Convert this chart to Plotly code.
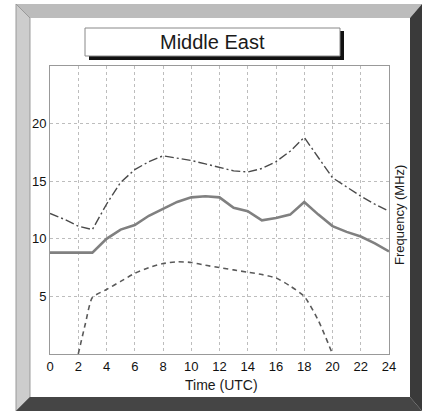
import plotly.graph_objects as go

# ---- data ----
hours = list(range(0, 25))
muf_median = [8.8, 8.8, 8.8, 8.8, 10.0, 10.8, 11.2, 12.0, 12.6, 13.2, 13.6, 13.7, 13.6,
              12.7, 12.4, 11.6, 11.8, 12.1, 13.2, 12.1, 11.1, 10.6, 10.2, 9.6, 8.9]
muf_upper = [12.2, 11.7, 11.1, 10.8, 13.0, 14.9, 16.0, 16.7, 17.2, 17.0, 16.8, 16.5, 16.2,
             15.9, 15.8, 16.1, 16.7, 17.6, 18.8, 17.0, 15.3, 14.5, 13.7, 13.0, 12.4]
low_hours = [2, 2.5, 3, 4, 5, 6, 7, 8, 9, 10, 11, 12, 13, 14, 15, 16, 17, 18, 19, 20]
muf_lower = [0.0, 2.6, 4.9, 5.6, 6.3, 7.0, 7.5, 7.85, 8.0, 7.95, 7.7, 7.5, 7.3, 7.1, 6.9,
             6.6, 5.9, 5.0, 2.9, 0.0]
x_ticks = list(range(0, 25, 2))
y_ticks = [5, 10, 15, 20]
title_text = "Middle East"
x_title = "Time (UTC)"
y_title = "Frequency (MHz)"

W, H = 428, 415
L, R, T, B = 50, 389, 66, 354


def px(x):
    return (x - L) / (R - L)


def py(y):
    return (B - y) / (B - T)


def poly(pts):
    return "M " + " L ".join(f"{px(x):.5f},{py(y):.5f}" for x, y in pts) + " Z"


fig = go.Figure()
fig.add_trace(go.Scatter(x=low_hours, y=muf_lower, mode="lines",
                         line=dict(color="#5a5a5a", width=1.6, dash="5px,4px", shape="spline", smoothing=0.6),
                         hoverinfo="skip"))
fig.add_trace(go.Scatter(x=hours, y=muf_upper, mode="lines",
                         line=dict(color="#4a4a4a", width=1.4, dash="9px,3px,2px,3px"),
                         hoverinfo="skip"))
fig.add_trace(go.Scatter(x=hours, y=muf_median, mode="lines",
                         line=dict(color="#808080", width=2.6),
                         hoverinfo="skip"))

shapes = []
# bevel frame
shapes.append(dict(type="path", xref="paper", yref="paper", layer="below",
                   path=poly([(16, 4), (422, 4), (410, 18), (30, 18)]),
                   fillcolor="#bcbcbc", line=dict(width=0)))
shapes.append(dict(type="path", xref="paper", yref="paper", layer="below",
                   path=poly([(16, 4), (30, 18), (30, 397), (16, 411)]),
                   fillcolor="#cdcdcd", line=dict(color="#9a9a9a", width=1)))
shapes.append(dict(type="path", xref="paper", yref="paper", layer="below",
                   path=poly([(422, 4), (422, 411), (410, 397), (410, 18)]),
                   fillcolor="#3a3a3a", line=dict(width=0)))
shapes.append(dict(type="path", xref="paper", yref="paper", layer="below",
                   path=poly([(16, 411), (30, 397), (410, 397), (422, 411)]),
                   fillcolor="#454545", line=dict(width=0)))
# title box with shadow
shapes.append(dict(type="rect", xref="paper", yref="paper", layer="below",
                   x0=px(89), x1=px(344), y0=py(60), y1=py(31),
                   fillcolor="#111111", line=dict(width=0)))
shapes.append(dict(type="rect", xref="paper", yref="paper", layer="below",
                   x0=px(85), x1=px(340), y0=py(56), y1=py(28),
                   fillcolor="white", line=dict(color="#888888", width=1)))

annotations = [
    dict(text=title_text, x=px(212), y=py(42), xref="paper", yref="paper",
         showarrow=False, font=dict(family="Liberation Sans", size=20, color="#1a1a1a"),
         xanchor="center", yanchor="middle"),
    dict(text=x_title, x=px(221), y=py(385), xref="paper", yref="paper",
         showarrow=False, font=dict(family="Liberation Sans", size=14, color="#1a1a1a"),
         xanchor="center", yanchor="middle"),
    dict(text=y_title, x=px(399), y=py(215), xref="paper", yref="paper", textangle=-90,
         showarrow=False, font=dict(family="Liberation Sans", size=13, color="#1a1a1a"),
         xanchor="center", yanchor="middle"),
]

fig.update_layout(
    width=W, height=H,
    margin=dict(l=L, r=W - R, t=T, b=H - B),
    paper_bgcolor="white", plot_bgcolor="white",
    showlegend=False,
    shapes=shapes, annotations=annotations,
    xaxis=dict(range=[0, 24], tickvals=x_ticks, showgrid=True, gridcolor="#bdbdbd",
               griddash="3px,3px", gridwidth=1, showline=True, linecolor="#999999", linewidth=1,
               mirror=True, zeroline=False, ticks="", ticklen=0,
               tickfont=dict(family="Liberation Sans", size=13, color="#111111")),
    yaxis=dict(range=[0, 25], tickvals=y_ticks, showgrid=True, gridcolor="#bdbdbd",
               griddash="3px,3px", gridwidth=1, showline=True, linecolor="#999999", linewidth=1,
               mirror=True, zeroline=False, ticks="", ticklen=0,
               tickfont=dict(family="Liberation Sans", size=13, color="#111111")),
)

fig.write_html("out.html", config={"displayModeBar": False},
               post_script="document.body.style.margin='0';")
